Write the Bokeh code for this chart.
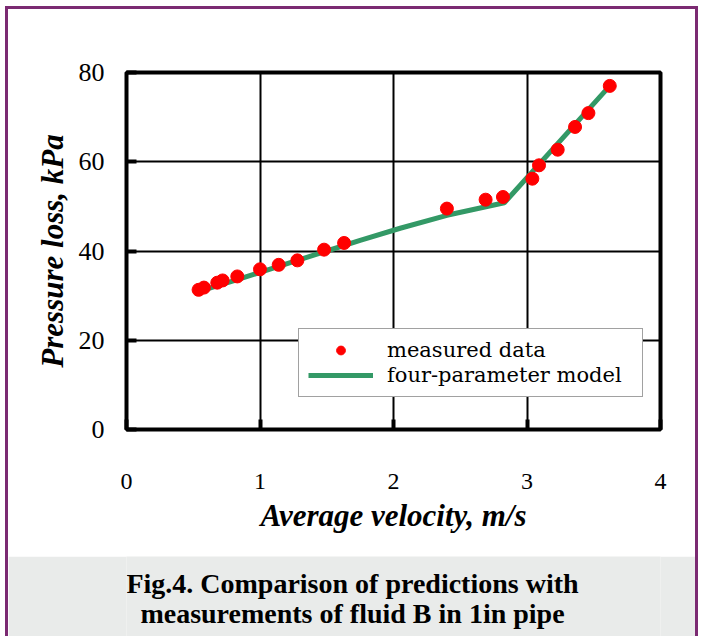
from bokeh.plotting import figure
from bokeh.layouts import column
from bokeh.models import Range1d, Legend, LegendItem, Label, FixedTicker
from bokeh.embed import file_html
from bokeh.resources import INLINE

# ---- data ----
velocity = [0.54, 0.58, 0.68, 0.72, 0.83, 1.00, 1.14, 1.28, 1.48, 1.63,
            2.40, 2.69, 2.82, 3.04, 3.09, 3.23, 3.36, 3.46, 3.62]
pressure = [31.3, 31.8, 32.9, 33.4, 34.3, 35.9, 36.9, 37.9, 40.3, 41.8,
            49.5, 51.5, 52.1, 56.2, 59.2, 62.7, 67.8, 70.9, 77.0]

model_velocity = [0.55, 0.80, 1.00, 1.25, 1.50, 1.75, 2.05, 2.40, 2.83, 3.62]
model_pressure = [31.0, 33.3, 35.2, 37.6, 40.0, 42.4, 45.1, 48.0, 50.8, 77.0]

x_ticks = [0, 1, 2, 3, 4]
y_ticks = [0, 20, 40, 60, 80]

x_label = "Average velocity, m/s"
y_label = "Pressure loss, kPa"
caption_lines = ["Fig.4. Comparison of predictions with",
                 "measurements of fluid B in 1in pipe"]
legend_labels = ["measured data", "four-parameter model"]

W = 687
H_MAIN = 547
H_CAP = 80
B_LEFT, B_RIGHT = 118, 35

p = figure(width=W, height=H_MAIN, output_backend="svg", toolbar_location=None,
           x_range=Range1d(0, 4), y_range=Range1d(0, 80),
           min_border_left=B_LEFT, min_border_right=B_RIGHT,
           min_border_top=63, min_border_bottom=127)

p.background_fill_color = "white"
p.border_fill_color = "white"
p.outline_line_color = "black"
p.outline_line_width = 4

for ax in (p.xaxis[0], p.yaxis[0]):
    ax.axis_line_color = None
    ax.major_tick_in = 10
    ax.major_tick_out = 0
    ax.major_tick_line_width = 4
    ax.major_tick_line_color = "black"
    ax.minor_tick_line_color = None
    ax.major_label_text_font = "Liberation Serif"
    ax.major_label_text_color = "black"
    ax.axis_label_text_font = "Liberation Serif"
    ax.axis_label_text_font_style = "bold italic"
    ax.axis_label_text_font_size = "31px"
    ax.axis_label_text_color = "black"

p.xaxis.ticker = FixedTicker(ticks=x_ticks)
p.yaxis.ticker = FixedTicker(ticks=y_ticks)
p.xaxis.major_label_text_font_size = "24px"
p.yaxis.major_label_text_font_size = "26px"
p.xaxis.major_label_standoff = 44
p.yaxis.major_label_standoff = 22
p.xaxis.axis_label = x_label
p.yaxis.axis_label = y_label
p.xaxis.axis_label_standoff = 6
p.yaxis.axis_label_standoff = 6

p.grid.grid_line_color = "black"
p.grid.grid_line_width = 2
p.grid.grid_line_alpha = 1

line_r = p.line(model_velocity, model_pressure, line_color="#339966", line_width=5)
dots_r = p.scatter(velocity, pressure, size=13, fill_color="#ff0000",
                   line_color="#ff0000")

legend = Legend(items=[LegendItem(label=legend_labels[0], renderers=[dots_r]),
                       LegendItem(label=legend_labels[1], renderers=[line_r])],
                location=(172, 32), orientation="vertical")
legend.label_text_font = "DejaVu Serif"
legend.label_text_font_size = "21px"
legend.label_text_color = "black"
legend.glyph_width = 65
legend.glyph_height = 22
legend.label_height = 22
legend.label_width = 246
legend.label_standoff = 14
legend.padding = 9
legend.spacing = 1
legend.margin = 0
legend.border_line_color = "#444444"
legend.border_line_width = 1
legend.background_fill_color = "white"
legend.background_fill_alpha = 1
p.add_layout(legend)

# caption panel (same side borders as the chart so the frames line up)
FRAME_W = W - B_LEFT - B_RIGHT
c = figure(width=W, height=H_CAP, output_backend="svg", toolbar_location=None,
           x_range=Range1d(0, FRAME_W), y_range=Range1d(0, H_CAP),
           x_axis_location=None, y_axis_location=None,
           min_border_left=B_LEFT, min_border_right=B_RIGHT,
           min_border_top=0, min_border_bottom=0)
c.grid.visible = False
c.outline_line_color = None
c.background_fill_color = "#e9ebea"
c.border_fill_color = "#e9ebea"
for i, txt in enumerate(caption_lines):
    c.add_layout(Label(x=344 - B_LEFT, y=53 - 30 * i, text=txt,
                       text_align="center", text_baseline="middle",
                       text_font="Liberation Serif", text_font_style="bold",
                       text_font_size="28px", text_color="black"))

layout = column(p, c, spacing=0,
                styles={"border-left": "3px solid #7b2a72",
                        "border-right": "3px solid #7b2a72",
                        "border-top": "3px solid #7b2a72",
                        "margin-left": "5px", "margin-top": "6px"})

open("out.html", "w").write(file_html(layout, INLINE))
